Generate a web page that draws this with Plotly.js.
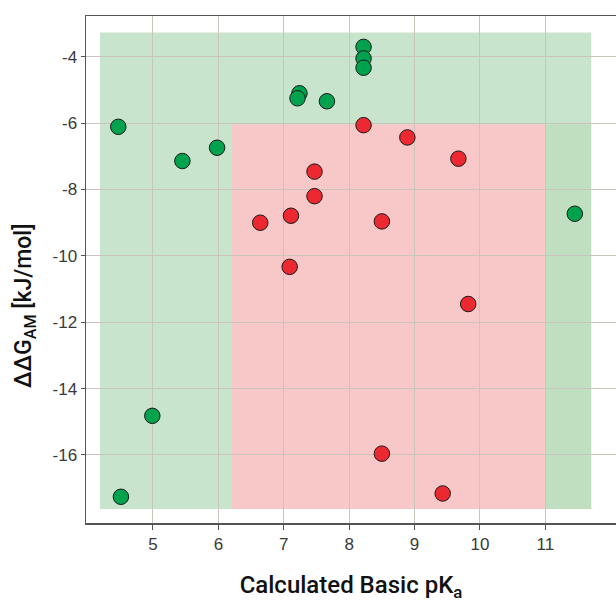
<!DOCTYPE html>
<html>
<head>
<meta charset="utf-8">
<script src="https://cdn.plot.ly/plotly-3.0.1.min.js"></script>
<style>
html,body{margin:0;padding:0;background:#fff;}
#chart{width:616px;height:602px;}
</style>
</head>
<body>
<div id="chart"></div>
<script>
// Data
const greenPKa = [8.22, 8.22, 8.22, 7.24, 7.21, 7.66, 4.47, 5.98, 5.45, 11.45, 4.99, 4.51];
const greenDG  = [-3.70, -4.05, -4.33, -5.10, -5.25, -5.34, -6.11, -6.74, -7.14, -8.73, -14.82, -17.26];
const redPKa   = [8.22, 8.89, 9.67, 7.47, 7.47, 6.64, 7.11, 8.50, 7.09, 9.82, 8.50, 9.43];
const redDG    = [-6.06, -6.43, -7.07, -7.46, -8.20, -9.00, -8.79, -8.96, -10.33, -11.45, -15.96, -17.16];

// Shaded zones: [x0, x1, y0, y1]
const zoneNames = ["green", "red", "greenRight"];
const zoneX0 = [4.19, 6.21, 11.0];
const zoneX1 = [11.70, 11.0, 11.70];
const zoneY0 = [-17.63, -17.63, -17.63];
const zoneY1 = [-3.27, -6.04, -6.04];
const zoneColors = ["#c9e4cd", "#f8c7c7", "#bfdfc0"];

const xTicks = [5, 6, 7, 8, 9, 10, 11];
const yTicks = [-4, -6, -8, -10, -12, -14, -16];

const xTitle = "Calculated Basic pK<sub>a</sub>";
const yTitle = "\u0394\u0394G<sub>AM</sub> [kJ/mol]";

const shapes = zoneNames.map((n, i) => ({
  type: "rect", xref: "x", yref: "y", layer: "below",
  x0: zoneX0[i], x1: zoneX1[i], y0: zoneY0[i], y1: zoneY1[i],
  fillcolor: zoneColors[i], line: {width: 0}
}));

const markerBase = {size: 15.5, line: {color: "#1a1a1a", width: 1}};

const traces = [
  {x: greenPKa, y: greenDG, type: "scatter", mode: "markers", name: "green",
   marker: Object.assign({}, markerBase, {color: "#00a24e"}), hoverinfo: "x+y"},
  {x: redPKa, y: redDG, type: "scatter", mode: "markers", name: "red",
   marker: Object.assign({}, markerBase, {color: "#ec2830"}), hoverinfo: "x+y"}
];

const tickFont = {family: "Liberation Sans, Arial, sans-serif", size: 17, color: "#3a3a3a"};
const titleFont = {family: "Roboto, Liberation Sans, Arial, sans-serif", size: 24, color: "#111", weight: 500};

const layout = {
  width: 616, height: 602,
  margin: {l: 86, r: 0, t: 16, b: 79},
  paper_bgcolor: "#ffffff", plot_bgcolor: "#ffffff",
  showlegend: false,
  shapes: shapes,
  annotations: [{
    text: yTitle, xref: "paper", yref: "paper", x: -0.115, y: 0.428,
    xanchor: "center", yanchor: "middle", textangle: -90, showarrow: false,
    font: Object.assign({}, titleFont, {size: 23})
  }],
  xaxis: {
    range: [3.976, 12.08], tickvals: xTicks, ticktext: xTicks.map(String),
    showgrid: true, gridcolor: "#c9c5bd", gridwidth: 1, zeroline: false,
    showline: true, linecolor: "#555", linewidth: 1.5, mirror: true,
    ticks: "outside", ticklen: 5, tickcolor: "#555", tickwidth: 1,
    tickfont: tickFont,
    title: {text: xTitle, font: titleFont, standoff: 28}
  },
  yaxis: {
    range: [-18.05, -2.77], tickvals: yTicks, ticktext: yTicks.map(String),
    showgrid: true, gridcolor: "#c9c5bd", gridwidth: 1, zeroline: false,
    showline: true, linecolor: "#555", linewidth: 1.5,
    ticks: "outside", ticklen: 4, tickcolor: "#555", tickwidth: 1,
    tickfont: tickFont
  }
};

Plotly.newPlot("chart", traces, layout, {displayModeBar: false, staticPlot: true});
</script>
</body>
</html>
